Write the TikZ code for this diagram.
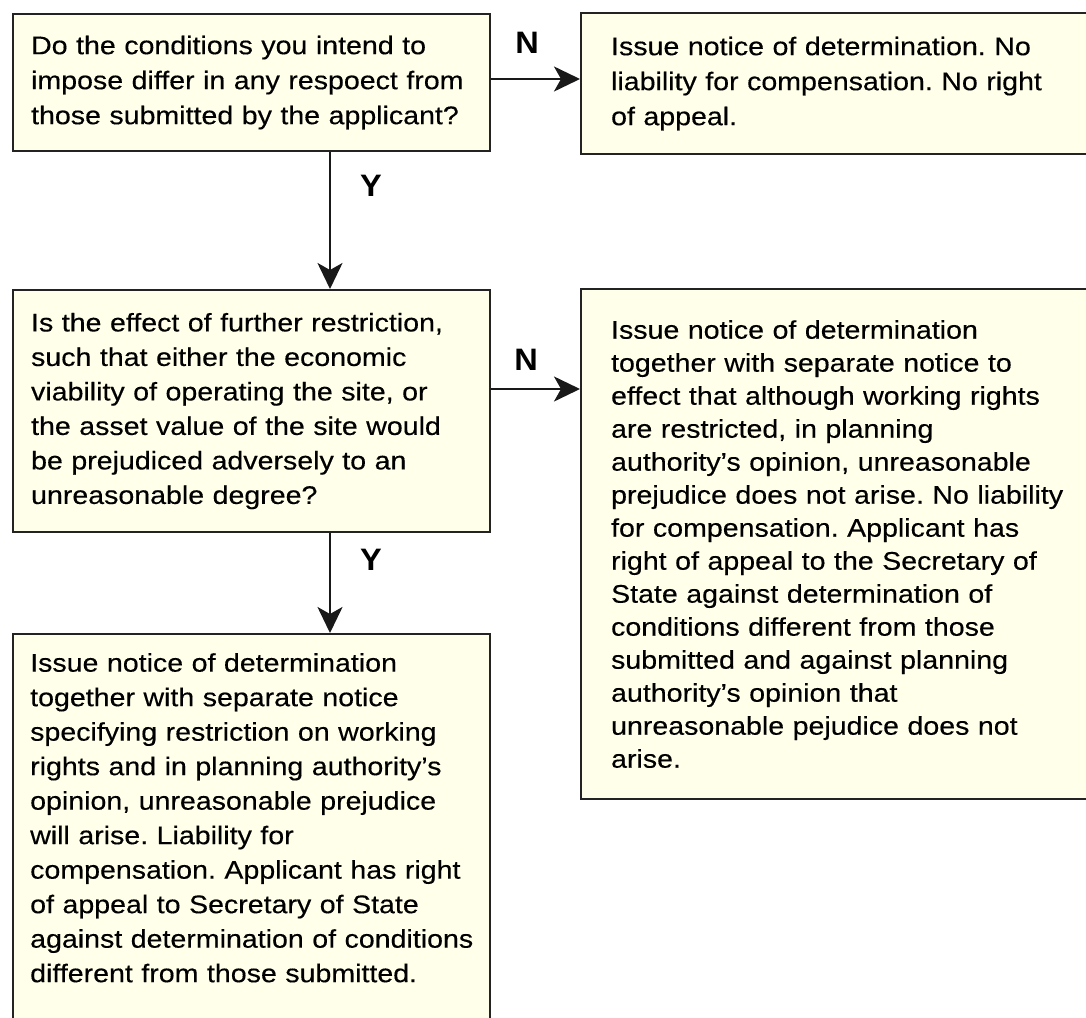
\documentclass[tikz,border=0pt]{standalone}
\usepackage{fontspec}
\setmainfont{Liberation Sans}[FakeStretch=1.12,FakeBold=0.3]
\newfontfamily\labfont{Liberation Sans}[FakeStretch=1.05]
\usetikzlibrary{arrows.meta}
\definecolor{boxfill}{RGB}{255,255,234}
\definecolor{boxline}{RGB}{35,35,35}
\frenchspacing
\begin{document}
\begin{tikzpicture}[x=1pt,y=-1pt,
  box/.style={draw=boxline, line width=2.2pt, fill=boxfill, rectangle, anchor=north west,
    inner ysep=0pt, align=left},
  lbox/.style={box, inner xsep=18pt, text width=441pt},
  rbox/.style={box, inner xsep=30pt, text width=460pt},
  fnt/.style={font=\fontsize{25.5}{#1}\selectfont},
  txt/.style={anchor=north west, inner sep=0pt, align=left, text width=470pt},
  lab/.style={font=\fontsize{31}{34}\selectfont\labfont\bfseries, inner sep=0pt},
  arr/.style={line width=2.4pt, draw=black!90, -{Stealth[length=26pt,width=25pt,inset=7pt]}}]
\useasboundingbox (0,0) rectangle (1086,1017);
\clip (0,0) rectangle (1086,1017);
\fill[white] (0,0) rectangle (1086,1017);

\node[lbox, fnt=35, minimum height=137pt] (b1) at (12,13)
  {Do the conditions you intend to\\impose differ in any respoect from\\those submitted by the applicant?};
\node[rbox, fnt=35, minimum height=141pt] (b2) at (580,12)
  {Issue notice of determination. No\\liability for compensation. No right\\of appeal.};
\node[lbox, fnt=34.5, minimum height=242pt] (b3) at (12,289)
  {Is the effect of further restriction,\\such that either the economic\\viability of operating the site, or\\the asset value of the site would\\be prejudiced adversely to an\\unreasonable degree?};
\node[rbox, fnt=33, minimum height=510pt] (b4) at (580,288)
  {Issue notice of determination\\together with separate notice to\\effect that although working rights\\are restricted, in planning\\authority's opinion, unreasonable\\prejudice does not arise. No liability\\for compensation. Applicant has\\right of appeal to the Secretary of\\State against determination of\\conditions different from those\\submitted and against planning\\authority's opinion that\\unreasonable pejudice does not\\arise.};
\node[box, minimum width=477pt, minimum height=430pt] (b5) at (12,633) {};
\node[txt, fnt=34.5] (t5) at (30,653)
  {Issue notice of determination\\together with separate notice\\specifying restriction on working\\rights and in planning authority's\\opinion, unreasonable prejudice\\will arise. Liability for\\compensation. Applicant has right\\of appeal to Secretary of State\\against determination of conditions\\different from those submitted.};

\coordinate (ax) at (330,0);
\coordinate (ay1) at (0,79);
\coordinate (ay2) at (0,389);

\draw[arr] (b1.east |- ay1) -- (b2.west |- ay1);
\draw[arr] (b1.south -| ax) -- (b3.north -| ax);
\draw[arr] (b3.east |- ay2) -- (b4.west |- ay2);
\draw[arr] (b3.south -| ax) -- (b5.north -| ax);

\node[lab] (n1) at (527,43) {N};
\node[lab] (y1) at (371,186) {Y};
\node[lab] (n2) at (526,360) {N};
\node[lab] (y2) at (371,560) {Y};
\end{tikzpicture}
\end{document}
